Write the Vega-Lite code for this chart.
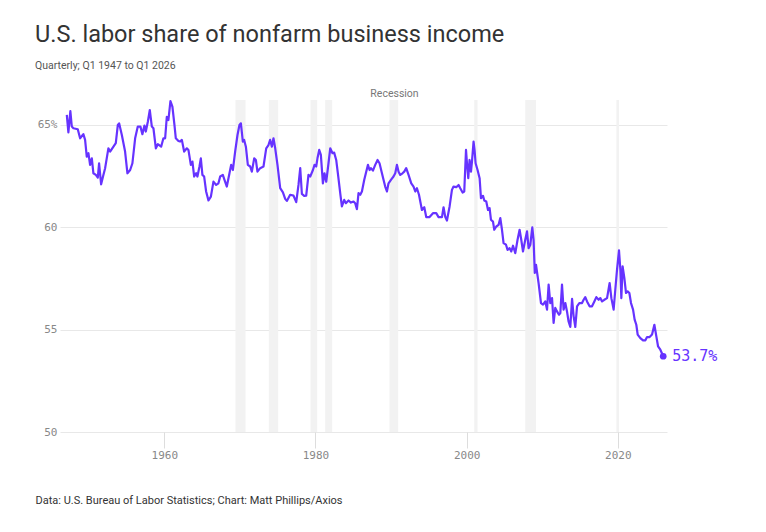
{
  "$schema": "https://vega.github.io/schema/vega-lite/v6.json",
  "width": 607,
  "height": 332,
  "autosize": {"type": "none"},
  "padding": {"left": 60, "top": 100, "right": 99, "bottom": 100},
  "background": "white",
  "title": {
    "text": "U.S. labor share of nonfarm business income",
    "subtitle": "Quarterly; Q1 1947 to Q1 2026",
    "anchor": "start",
    "frame": "group",
    "dx": -25,
    "offset": 18,
    "font": "Roboto",
    "fontSize": 23.5,
    "fontWeight": "normal",
    "color": "#333333",
    "subtitleFont": "Roboto",
    "subtitleFontSize": 10.5,
    "subtitleColor": "#555555",
    "subtitlePadding": 14
  },
  "datasets": {
    "share": [
      {"year": 1947.10, "value": 65.49}, {"year": 1947.31, "value": 64.64}, {"year": 1947.57, "value": 65.68}, {"year": 1947.76, "value": 64.92},
      {"year": 1947.97, "value": 64.84}, {"year": 1948.55, "value": 64.79}, {"year": 1948.86, "value": 64.35}, {"year": 1949.29, "value": 64.55},
      {"year": 1949.52, "value": 64.27}, {"year": 1949.74, "value": 63.45}, {"year": 1949.96, "value": 63.62}, {"year": 1950.18, "value": 63.05},
      {"year": 1950.41, "value": 63.37}, {"year": 1950.62, "value": 62.64}, {"year": 1950.94, "value": 62.56}, {"year": 1951.20, "value": 62.43},
      {"year": 1951.37, "value": 63.13}, {"year": 1951.64, "value": 62.10}, {"year": 1951.94, "value": 62.56}, {"year": 1952.17, "value": 62.89},
      {"year": 1952.60, "value": 63.86}, {"year": 1952.83, "value": 63.70}, {"year": 1953.27, "value": 63.94}, {"year": 1953.58, "value": 64.11},
      {"year": 1953.85, "value": 65.00}, {"year": 1954.02, "value": 65.08}, {"year": 1954.38, "value": 64.51}, {"year": 1954.81, "value": 63.70},
      {"year": 1955.12, "value": 62.64}, {"year": 1955.48, "value": 62.80}, {"year": 1955.78, "value": 63.13}, {"year": 1956.14, "value": 64.35},
      {"year": 1956.49, "value": 64.92}, {"year": 1956.84, "value": 64.92}, {"year": 1957.10, "value": 64.55}, {"year": 1957.37, "value": 64.97},
      {"year": 1957.55, "value": 64.68}, {"year": 1957.82, "value": 65.16}, {"year": 1958.08, "value": 65.73}, {"year": 1958.35, "value": 64.92},
      {"year": 1958.56, "value": 64.84}, {"year": 1958.88, "value": 63.86}, {"year": 1959.14, "value": 64.06}, {"year": 1959.58, "value": 63.94},
      {"year": 1959.88, "value": 64.35}, {"year": 1960.11, "value": 64.35}, {"year": 1960.33, "value": 65.40}, {"year": 1960.54, "value": 65.24},
      {"year": 1960.81, "value": 66.17}, {"year": 1961.07, "value": 65.90}, {"year": 1961.34, "value": 65.00}, {"year": 1961.52, "value": 64.35},
      {"year": 1961.87, "value": 64.22}, {"year": 1962.09, "value": 64.19}, {"year": 1962.32, "value": 64.27}, {"year": 1962.62, "value": 63.70},
      {"year": 1962.98, "value": 63.86}, {"year": 1963.19, "value": 63.78}, {"year": 1963.51, "value": 63.05}, {"year": 1963.72, "value": 63.21},
      {"year": 1963.95, "value": 62.48}, {"year": 1964.21, "value": 62.64}, {"year": 1964.38, "value": 62.48}, {"year": 1964.65, "value": 62.97},
      {"year": 1964.83, "value": 63.37}, {"year": 1965.04, "value": 62.56}, {"year": 1965.27, "value": 62.48}, {"year": 1965.53, "value": 61.75},
      {"year": 1965.84, "value": 61.31}, {"year": 1966.16, "value": 61.50}, {"year": 1966.50, "value": 62.23}, {"year": 1966.86, "value": 62.07},
      {"year": 1967.16, "value": 62.15}, {"year": 1967.39, "value": 62.48}, {"year": 1967.74, "value": 62.56}, {"year": 1967.96, "value": 62.32},
      {"year": 1968.27, "value": 61.99}, {"year": 1968.62, "value": 62.64}, {"year": 1968.84, "value": 63.05}, {"year": 1969.07, "value": 62.80},
      {"year": 1969.37, "value": 63.70}, {"year": 1969.68, "value": 64.51}, {"year": 1969.94, "value": 65.00}, {"year": 1970.13, "value": 65.08},
      {"year": 1970.39, "value": 64.19}, {"year": 1970.56, "value": 64.27}, {"year": 1970.79, "value": 63.94}, {"year": 1971.05, "value": 63.05},
      {"year": 1971.36, "value": 62.97}, {"year": 1971.58, "value": 62.72}, {"year": 1971.89, "value": 63.37}, {"year": 1972.11, "value": 63.29},
      {"year": 1972.32, "value": 62.72}, {"year": 1972.68, "value": 62.89}, {"year": 1973.12, "value": 62.97}, {"year": 1973.48, "value": 63.86},
      {"year": 1973.78, "value": 64.02}, {"year": 1974.00, "value": 64.27}, {"year": 1974.23, "value": 63.94}, {"year": 1974.44, "value": 64.35},
      {"year": 1974.67, "value": 63.86}, {"year": 1974.97, "value": 63.05}, {"year": 1975.33, "value": 61.91}, {"year": 1975.69, "value": 61.71},
      {"year": 1975.99, "value": 61.39}, {"year": 1976.21, "value": 61.29}, {"year": 1976.65, "value": 61.59}, {"year": 1977.09, "value": 61.55},
      {"year": 1977.45, "value": 61.23}, {"year": 1977.75, "value": 62.07}, {"year": 1977.98, "value": 62.89}, {"year": 1978.20, "value": 61.63},
      {"year": 1978.50, "value": 61.54}, {"year": 1978.77, "value": 61.55}, {"year": 1979.07, "value": 62.56}, {"year": 1979.30, "value": 62.48},
      {"year": 1979.66, "value": 62.80}, {"year": 1979.87, "value": 63.05}, {"year": 1980.09, "value": 62.97}, {"year": 1980.26, "value": 63.37},
      {"year": 1980.49, "value": 63.78}, {"year": 1980.71, "value": 63.54}, {"year": 1980.98, "value": 62.15}, {"year": 1981.19, "value": 62.64},
      {"year": 1981.42, "value": 62.23}, {"year": 1981.72, "value": 63.13}, {"year": 1981.95, "value": 63.86}, {"year": 1982.25, "value": 63.62},
      {"year": 1982.47, "value": 63.65}, {"year": 1982.74, "value": 63.29}, {"year": 1982.96, "value": 62.64}, {"year": 1983.27, "value": 61.67},
      {"year": 1983.49, "value": 61.02}, {"year": 1983.80, "value": 61.34}, {"year": 1984.02, "value": 61.18}, {"year": 1984.37, "value": 61.31},
      {"year": 1984.69, "value": 61.21}, {"year": 1985.03, "value": 61.26}, {"year": 1985.25, "value": 61.18}, {"year": 1985.48, "value": 60.89},
      {"year": 1985.69, "value": 61.67}, {"year": 1985.92, "value": 61.59}, {"year": 1986.14, "value": 61.75}, {"year": 1986.45, "value": 62.32},
      {"year": 1986.71, "value": 62.72}, {"year": 1986.94, "value": 63.05}, {"year": 1987.15, "value": 62.80}, {"year": 1987.33, "value": 62.89},
      {"year": 1987.60, "value": 62.77}, {"year": 1987.90, "value": 63.05}, {"year": 1988.21, "value": 63.29}, {"year": 1988.47, "value": 63.13},
      {"year": 1988.79, "value": 62.64}, {"year": 1989.00, "value": 62.32}, {"year": 1989.22, "value": 61.99}, {"year": 1989.45, "value": 61.75},
      {"year": 1989.66, "value": 62.15}, {"year": 1989.98, "value": 62.32}, {"year": 1990.32, "value": 62.48}, {"year": 1990.55, "value": 62.64},
      {"year": 1990.77, "value": 63.05}, {"year": 1990.99, "value": 62.72}, {"year": 1991.21, "value": 62.56}, {"year": 1991.51, "value": 62.64},
      {"year": 1991.74, "value": 62.72}, {"year": 1992.00, "value": 62.89}, {"year": 1992.31, "value": 62.56}, {"year": 1992.67, "value": 62.15},
      {"year": 1992.97, "value": 61.99}, {"year": 1993.20, "value": 61.75}, {"year": 1993.42, "value": 61.91}, {"year": 1993.69, "value": 61.59},
      {"year": 1994.08, "value": 60.85}, {"year": 1994.39, "value": 60.98}, {"year": 1994.65, "value": 60.50}, {"year": 1995.09, "value": 60.50},
      {"year": 1995.54, "value": 60.69}, {"year": 1995.97, "value": 60.69}, {"year": 1996.28, "value": 60.50}, {"year": 1996.73, "value": 60.50},
      {"year": 1996.94, "value": 60.98}, {"year": 1997.17, "value": 60.50}, {"year": 1997.39, "value": 60.33}, {"year": 1997.74, "value": 61.02},
      {"year": 1998.05, "value": 61.83}, {"year": 1998.26, "value": 61.99}, {"year": 1998.62, "value": 61.96}, {"year": 1998.93, "value": 62.07},
      {"year": 1999.15, "value": 61.91}, {"year": 1999.46, "value": 61.70}, {"year": 1999.68, "value": 61.75}, {"year": 1999.91, "value": 63.78},
      {"year": 2000.04, "value": 63.13}, {"year": 2000.21, "value": 62.40}, {"year": 2000.38, "value": 63.29}, {"year": 2000.57, "value": 62.72},
      {"year": 2000.70, "value": 63.21}, {"year": 2000.91, "value": 64.19}, {"year": 2001.04, "value": 63.78}, {"year": 2001.18, "value": 63.13},
      {"year": 2001.44, "value": 62.80}, {"year": 2001.71, "value": 62.40}, {"year": 2001.89, "value": 61.42}, {"year": 2002.16, "value": 61.54},
      {"year": 2002.33, "value": 61.31}, {"year": 2002.59, "value": 61.26}, {"year": 2002.82, "value": 60.85}, {"year": 2003.03, "value": 60.94},
      {"year": 2003.21, "value": 60.37}, {"year": 2003.48, "value": 60.28}, {"year": 2003.65, "value": 59.88}, {"year": 2003.92, "value": 60.04},
      {"year": 2004.22, "value": 60.12}, {"year": 2004.45, "value": 60.45}, {"year": 2004.67, "value": 59.88}, {"year": 2004.88, "value": 59.23},
      {"year": 2005.20, "value": 59.15}, {"year": 2005.41, "value": 58.90}, {"year": 2005.68, "value": 58.98}, {"year": 2005.90, "value": 58.82},
      {"year": 2006.13, "value": 59.10}, {"year": 2006.43, "value": 58.74}, {"year": 2006.73, "value": 59.39}, {"year": 2007.00, "value": 59.88},
      {"year": 2007.22, "value": 59.39}, {"year": 2007.45, "value": 58.82}, {"year": 2007.75, "value": 59.39}, {"year": 2007.98, "value": 59.80},
      {"year": 2008.19, "value": 58.98}, {"year": 2008.42, "value": 59.15}, {"year": 2008.68, "value": 60.00}, {"year": 2008.85, "value": 59.39},
      {"year": 2009.01, "value": 57.77}, {"year": 2009.17, "value": 58.17}, {"year": 2009.51, "value": 57.28}, {"year": 2009.83, "value": 56.30},
      {"year": 2010.10, "value": 56.22}, {"year": 2010.40, "value": 56.38}, {"year": 2010.63, "value": 55.98}, {"year": 2010.84, "value": 57.20},
      {"year": 2011.06, "value": 56.30}, {"year": 2011.29, "value": 56.54}, {"year": 2011.50, "value": 55.33}, {"year": 2011.72, "value": 56.06},
      {"year": 2011.95, "value": 55.89}, {"year": 2012.21, "value": 55.73}, {"year": 2012.39, "value": 55.81}, {"year": 2012.61, "value": 57.20},
      {"year": 2012.82, "value": 55.98}, {"year": 2013.05, "value": 56.30}, {"year": 2013.27, "value": 55.89}, {"year": 2013.48, "value": 55.40},
      {"year": 2013.71, "value": 55.13}, {"year": 2013.94, "value": 56.50}, {"year": 2014.15, "value": 55.65}, {"year": 2014.37, "value": 55.13},
      {"year": 2014.60, "value": 56.14}, {"year": 2014.90, "value": 56.30}, {"year": 2015.26, "value": 56.30}, {"year": 2015.47, "value": 56.46},
      {"year": 2015.69, "value": 56.59}, {"year": 2015.92, "value": 56.38}, {"year": 2016.26, "value": 56.14}, {"year": 2016.58, "value": 56.14},
      {"year": 2016.89, "value": 56.38}, {"year": 2017.15, "value": 56.59}, {"year": 2017.46, "value": 56.46}, {"year": 2017.68, "value": 56.54},
      {"year": 2017.91, "value": 56.38}, {"year": 2018.21, "value": 56.46}, {"year": 2018.57, "value": 56.54}, {"year": 2018.91, "value": 57.28},
      {"year": 2019.14, "value": 56.54}, {"year": 2019.44, "value": 55.98}, {"year": 2019.66, "value": 56.95}, {"year": 2019.89, "value": 57.93},
      {"year": 2020.15, "value": 58.87}, {"year": 2020.33, "value": 57.93}, {"year": 2020.46, "value": 56.54}, {"year": 2020.63, "value": 58.09},
      {"year": 2020.86, "value": 57.52}, {"year": 2021.08, "value": 56.79}, {"year": 2021.29, "value": 56.87}, {"year": 2021.52, "value": 56.79},
      {"year": 2021.74, "value": 56.30}, {"year": 2022.01, "value": 55.98}, {"year": 2022.22, "value": 55.49}, {"year": 2022.44, "value": 55.24},
      {"year": 2022.62, "value": 54.76}, {"year": 2022.97, "value": 54.59}, {"year": 2023.33, "value": 54.48}, {"year": 2023.64, "value": 54.48},
      {"year": 2023.86, "value": 54.64}, {"year": 2024.20, "value": 54.64}, {"year": 2024.52, "value": 54.76}, {"year": 2024.83, "value": 55.24},
      {"year": 2025.09, "value": 54.67}, {"year": 2025.32, "value": 54.18}, {"year": 2025.62, "value": 54.02}, {"year": 2026.00, "value": 53.70}
    ],
    "recessions": [
      {"start": 1969.41, "end": 1970.74, "label": ""},
      {"start": 1973.83, "end": 1975.06, "label": ""},
      {"start": 1979.34, "end": 1980.22, "label": ""},
      {"start": 1981.28, "end": 1982.21, "label": ""},
      {"start": 1989.79, "end": 1990.94, "label": "Recession"},
      {"start": 2001.00, "end": 2001.44, "label": ""},
      {"start": 2007.75, "end": 2009.17, "label": ""},
      {"start": 2019.81, "end": 2020.15, "label": ""}
    ]
  },
  "data": {"name": "share"},
  "encoding": {
    "x": {
      "field": "year",
      "type": "quantitative",
      "scale": {"domain": [1946.2, 2026.5], "nice": false, "zero": false},
      "axis": {
        "values": [1960, 1980, 2000, 2020],
        "format": "d",
        "grid": false,
        "domain": false,
        "ticks": true,
        "tickSize": 16,
        "tickColor": "#dddddd",
        "labelPadding": 1,
        "labelFont": "DejaVu Sans Mono",
        "labelFontSize": 11,
        "labelColor": "#888888",
        "title": "Data: U.S. Bureau of Labor Statistics; Chart: Matt Phillips/Axios",
        "titleFont": "Roboto",
        "titleFontSize": 11,
        "titleFontWeight": "normal",
        "titleColor": "#333333",
        "titleAnchor": "start",
        "titleAlign": "left",
        "titleBaseline": "middle",
        "titleX": -25,
        "titleY": 68
      }
    },
    "y": {
      "field": "value",
      "type": "quantitative",
      "scale": {"domain": [50, 66.22], "nice": false, "zero": false},
      "axis": {
        "values": [50, 55, 60, 65],
        "labelExpr": "datum.value == 65 ? '65%' : datum.label",
        "title": null,
        "domain": false,
        "ticks": false,
        "grid": true,
        "gridColor": "#e8e8e8",
        "labelPadding": 3,
        "labelFont": "DejaVu Sans Mono",
        "labelFontSize": 11,
        "labelColor": "#888888"
      }
    }
  },
  "layer": [
    {
      "data": {"name": "recessions"},
      "mark": {"type": "rect", "color": "#f2f2f2"},
      "encoding": {
        "x": {"field": "start", "type": "quantitative"},
        "x2": {"field": "end"},
        "y": null
      }
    },
    {
      "data": {"name": "recessions"},
      "transform": [{"filter": "datum.label != ''"}, {"calculate": "66.22", "as": "top"}],
      "mark": {"type": "text", "font": "Roboto", "fontSize": 10.5, "color": "#777777", "baseline": "bottom", "dy": -1, "dx": 5},
      "encoding": {
        "x": {"field": "start", "type": "quantitative"},
        "y": {"field": "top", "type": "quantitative"},
        "text": {"field": "label"}
      }
    },
    {
      "mark": {"type": "line", "color": "#6633ff", "strokeWidth": 2.2, "strokeJoin": "round"}
    },
    {
      "transform": [{"filter": "datum.year >= 2026"}],
      "mark": {"type": "point", "filled": true, "color": "#6633ff", "size": 45, "opacity": 1}
    },
    {
      "transform": [
        {"filter": "datum.year >= 2026"},
        {"calculate": "format(datum.value, '.1f') + '%'", "as": "label"}
      ],
      "mark": {"type": "text", "font": "DejaVu Sans Mono", "fontSize": 15, "color": "#6633ff", "align": "left", "baseline": "middle", "dx": 9},
      "encoding": {"text": {"field": "label"}}
    }
  ],
  "config": {
    "view": {"stroke": null}
  }
}
